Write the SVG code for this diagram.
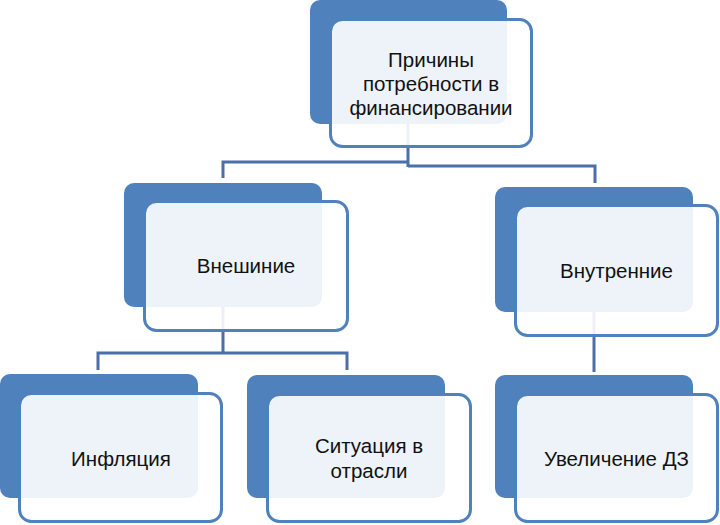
<svg xmlns="http://www.w3.org/2000/svg" width="720" height="525" viewBox="0 0 720 525">
<style>
.back{fill:#4f81bd;}
.front{fill:#ffffff;fill-opacity:0.9;stroke:#4f81bd;stroke-width:3;}
.conn{fill:none;stroke:#4a6fa9;stroke-width:3;}
text{font-family:"Liberation Sans",Arial,sans-serif;font-size:20.5px;fill:#111;text-anchor:middle;}
</style>
<rect width="720" height="525" fill="#ffffff"/>
<g id="connectors">
<path class="conn" d="M408,124 V167 M409.5,162 H223 V178 M408,166 H595 V183"/>
<path class="conn" d="M223,307 V353 M96.5,353 H348.5 M98,353 V370 M347,353 V370"/>
<path class="conn" d="M594,312 V372"/>
</g>
<g id="node-root">
<rect class="back" x="310" y="0" width="197" height="124" rx="10"/>
<rect class="front" x="330.5" y="19.5" width="201" height="127" rx="12"/>
<text x="431" y="67">Причины</text>
<text x="431" y="91">потребности в</text>
<text x="431" y="115">финансировании</text>
</g>
<g id="node-external">
<rect class="back" x="124" y="183" width="198" height="124" rx="10"/>
<rect class="front" x="144.5" y="201.5" width="203" height="129" rx="12"/>
<text x="246" y="273">Внешиние</text>
</g>
<g id="node-internal">
<rect class="back" x="495" y="187" width="198" height="125" rx="10"/>
<rect class="front" x="515.5" y="205.5" width="202" height="130" rx="12"/>
<text x="616.5" y="278">Внутренние</text>
</g>
<g id="node-inflation">
<rect class="back" x="0" y="374" width="198" height="124" rx="10"/>
<rect class="front" x="19.5" y="393.5" width="202" height="128" rx="12"/>
<text x="121" y="466">Инфляция</text>
</g>
<g id="node-industry">
<rect class="back" x="247" y="375" width="198" height="123" rx="10"/>
<rect class="front" x="267.5" y="394.5" width="203" height="127" rx="12"/>
<text x="369" y="453">Ситуация в</text>
<text x="369" y="478">отрасли</text>
</g>
<g id="node-receivables">
<rect class="back" x="495" y="375" width="198" height="123" rx="10"/>
<rect class="front" x="515.5" y="394.5" width="202" height="127" rx="12"/>
<text x="616.5" y="466">Увеличение ДЗ</text>
</g>
</svg>
